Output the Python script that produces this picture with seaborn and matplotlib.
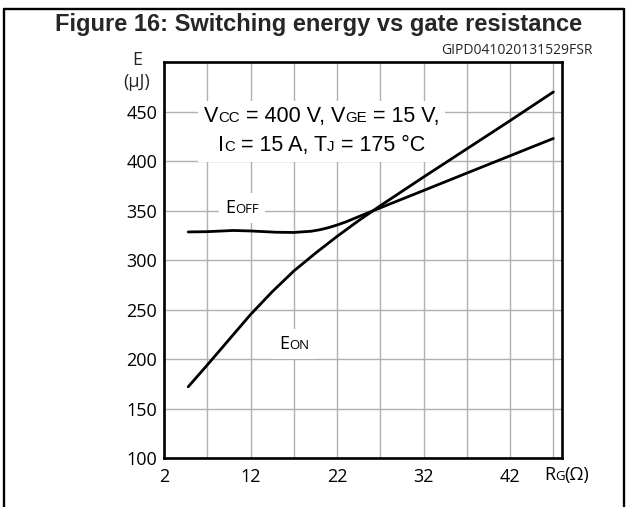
import numpy as np
import pandas as pd
import matplotlib
matplotlib.use("Agg")
import matplotlib.pyplot as plt
import seaborn as sns
from matplotlib.lines import Line2D
from matplotlib.offsetbox import TextArea, HPacker, VPacker, AnnotationBbox

# --- DATA ---
rg_on = [4.8, 7, 9.5, 12, 14.5, 17, 19.5, 22, 24.5, 27, 32, 37, 42, 47]
e_on = [172, 194, 219.5, 245, 268, 289, 307, 324, 340, 355, 384, 412.5, 441, 470]

rg_off = [4.8, 7, 10, 12, 15, 17, 19, 20, 21, 22, 23, 25, 27, 32, 37, 42, 47]
e_off = [328.5, 328.8, 330, 329.5, 328.2, 328, 329.2, 330.7, 332.8, 335.5, 338.6,
         345.8, 352.9, 370.4, 388, 405.5, 423]

x_ticks = [2, 12, 22, 32, 42]
x_grid = [7, 17, 27, 37, 47]
y_ticks = [100, 150, 200, 250, 300, 350, 400, 450]

# --- STYLE ---
sns.set_theme(style="white")
LABEL_FONT = ["Open Sans", "DejaVu Sans"]
ARIAL = ["Liberation Sans", "DejaVu Sans"]
plt.rcParams["font.family"] = LABEL_FONT

df = pd.concat(
    [
        pd.DataFrame({"Rg": rg_on, "E": e_on, "curve": "EON"}),
        pd.DataFrame({"Rg": rg_off, "E": e_off, "curve": "EOFF"}),
    ],
    ignore_index=True,
)

fig = plt.figure(figsize=(6.3, 5.07), dpi=100)
ax = fig.add_axes([164 / 630, 49 / 507, 398 / 630, 395.7 / 507])

sns.lineplot(
    data=df,
    x="Rg",
    y="E",
    hue="curve",
    palette={"EON": "black", "EOFF": "black"},
    linewidth=2.0,
    legend=False,
    sort=True,
    ax=ax,
)

ax.set_xlim(2, 48)
ax.set_ylim(100, 500)
ax.set_xticks(x_ticks)
ax.set_xticks(x_grid, minor=True)
ax.set_yticks(y_ticks)
ax.set_xticklabels([str(v) for v in x_ticks])
ax.set_yticklabels([str(v) for v in y_ticks])
ax.tick_params(axis="both", which="both", length=0, labelsize=13, colors="black")
ax.tick_params(axis="x", pad=7)
ax.tick_params(axis="y", pad=5)
ax.grid(True, which="both", color="#b0b0b0", linewidth=1.0)
ax.set_axisbelow(True)
ax.set_xlabel("")
ax.set_ylabel("")
for sp in ax.spines.values():
    sp.set_visible(True)
    sp.set_color("black")
    sp.set_linewidth(1.9)


def rich(parts, family, big, small):
    # parts: list of (text, is_small); sits on a common baseline
    areas = []
    for txt, is_small in parts:
        areas.append(
            TextArea(
                txt,
                textprops=dict(
                    family=family, size=small if is_small else big, color="black"
                ),
            )
        )
    return HPacker(children=areas, align="baseline", pad=0, sep=0)


def place(box, xy, xycoords="data", align=(0.5, 0.5), white=True, pad=0.2):
    ab = AnnotationBbox(
        box,
        xy,
        xycoords=xycoords,
        box_alignment=align,
        frameon=white,
        pad=pad,
        bboxprops=dict(facecolor="white", edgecolor="none"),
        zorder=5,
        annotation_clip=False,
    )
    ax.add_artist(ab)


# conditions box
line1 = rich(
    [("V", False), ("CC", True), (" = 400 V, V", False), ("GE", True), (" = 15 V,", False)],
    ARIAL, 15.5, 10.8,
)
line2 = rich(
    [("I", False), ("C", True), (" = 15 A, T", False), ("J", True), (" = 175 °C", False)],
    ARIAL, 15.5, 10.8,
)
cond = VPacker(children=[line1, line2], align="center", pad=0, sep=6)
place(cond, (20.2, 430.5), pad=0.35)

# curve labels
place(rich([("E", False), ("OFF", True)], LABEL_FONT, 13, 9.5), (11.0, 352.5), pad=0.4)
place(rich([("E", False), ("ON", True)], LABEL_FONT, 13, 9.5), (17.0, 215.5), pad=0.4)

# x unit label
place(
    rich([("R", False), ("G", True), ("(Ω)", False)], LABEL_FONT, 13, 9.5),
    (45.9, -0.043),
    xycoords=ax.get_xaxis_transform(),
    align=(0, 0.5),
    white=False,
    pad=0,
)

# y unit label
fig.text(137 / 630, 1 - 60 / 507, "E", ha="center", va="center", size=13, family=LABEL_FONT)
fig.text(137 / 630, 1 - 82 / 507, "(μJ)", ha="center", va="center", size=13, family=LABEL_FONT)

# title and reference code
fig.text(
    319 / 630, 1 - 24 / 507,
    "Figure 16: Switching energy vs gate resistance",
    ha="center", va="center", size=17, weight="bold", family=ARIAL,
)
fig.text(
    593 / 630, 1 - 50 / 507, "GIPD041020131529FSR",
    ha="right", va="center", size=10, family=LABEL_FONT,
)

# outer frame (open at the bottom edge of the crop)
frame_kw = dict(transform=fig.transFigure, color="black", linewidth=1.7)
fig.add_artist(Line2D([4 / 630, 4 / 630], [0, 1 - 9 / 507], **frame_kw))
fig.add_artist(Line2D([4 / 630, 624 / 630], [1 - 9 / 507, 1 - 9 / 507], **frame_kw))
fig.add_artist(Line2D([624 / 630, 624 / 630], [0, 1 - 9 / 507], **frame_kw))

fig.savefig("out.png", dpi=100)
